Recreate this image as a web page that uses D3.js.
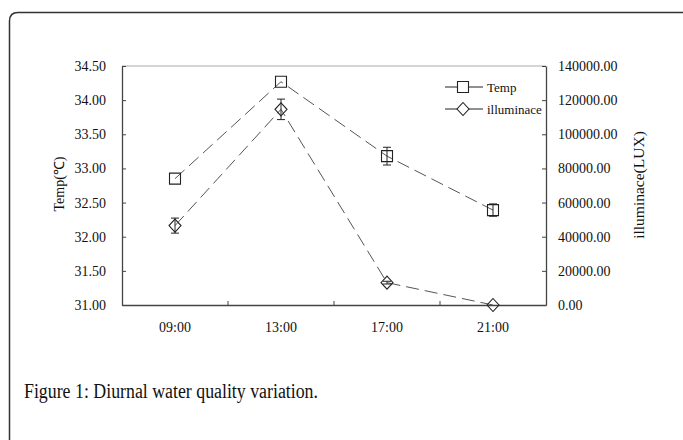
<!DOCTYPE html>
<html>
<head>
<meta charset="utf-8">
<script src="https://cdn.jsdelivr.net/npm/d3@7"></script>
<style>
  body { margin: 0; background: #fff; }
  svg text { font-family: "Liberation Serif", "Times New Roman", serif; fill: #111; }
</style>
</head>
<body>
<svg id="chart" width="683" height="440"></svg>
<script>
// data
const times = ["09:00", "13:00", "17:00", "21:00"];
const temp = [32.85, 34.27, 33.18, 32.39];
const tempErr = [0.01, 0.01, 0.13, 0.09];
const lux = [46500, 114600, 13100, 0];
const luxErr = [4400, 6000, 800, 300];
const tempTicks = [31, 31.5, 32, 32.5, 33, 33.5, 34, 34.5];
const luxTicks = [0, 20000, 40000, 60000, 80000, 100000, 120000, 140000];

const svg = d3.select("#chart");

// outer frame of the figure box (runs off right and bottom)
svg.append("path")
  .attr("d", "M9.5,440 L9.5,21 Q9.5,12.5 18,12.5 L690,12.5")
  .attr("fill", "none").attr("stroke", "#333").attr("stroke-width", 1.5);

const pLeft = 122, pRight = 546, pTop = 66, pBottom = 305;

const x = d3.scaleBand().domain(times).range([pLeft, pRight]);
const yT = d3.scaleLinear().domain([31, 34.5]).range([pBottom, pTop]);
const yL = d3.scaleLinear().domain([0, 140000]).range([pBottom, pTop]);

// plot border
svg.append("line").attr("x1", pLeft).attr("x2", pRight).attr("y1", pTop).attr("y2", pTop)
  .attr("stroke", "#aaa").attr("stroke-width", 1);

// left axis
const ga = svg.append("g").attr("transform", `translate(${pLeft},0)`)
  .call(d3.axisLeft(yT).tickValues(tempTicks).tickFormat(d3.format(".2f")).tickSizeInner(-4).tickSizeOuter(0).tickPadding(16));
// right axis
const gb = svg.append("g").attr("transform", `translate(${pRight},0)`)
  .call(d3.axisRight(yL).tickValues(luxTicks).tickFormat(d3.format(".2f")).tickSizeInner(-4).tickSizeOuter(0).tickPadding(12));
// bottom axis: ticks on band boundaries
const gx = svg.append("g").attr("transform", `translate(0,${pBottom})`)
  .call(d3.axisBottom(x).tickSize(0).tickPadding(17));
gx.selectAll(".tick").append("line")
  .attr("x1", x.bandwidth() / 2).attr("x2", x.bandwidth() / 2)
  .attr("y1", 0).attr("y2", -4)
  .attr("stroke", "#333")
  .filter((d, i) => i === times.length - 1).remove();

[ga, gb, gx].forEach(g => {
  g.select(".domain").attr("stroke", "#444").attr("stroke-width", 1.3);
  g.selectAll(".tick line").attr("stroke", "#444");
  g.selectAll("text").attr("font-size", 14).attr("font-family", "Liberation Serif").attr("fill", "#111");
});

// axis titles
svg.append("text").attr("transform", "translate(64,184) rotate(-90)")
  .attr("text-anchor", "middle").attr("font-size", 14).text("Temp(℃)");
svg.append("text").attr("transform", "translate(644,185) rotate(-90)")
  .attr("text-anchor", "middle").attr("font-size", 15.5).text("illuminace(LUX)");

const cx = d => x(d) + x.bandwidth() / 2;
const dashes = "13,6";

function series(vals, errs, y, shape) {
  const g = svg.append("g");
  g.append("path")
    .datum(vals)
    .attr("d", d3.line().x((d, i) => cx(times[i])).y(d => y(d)))
    .attr("fill", "none").attr("stroke", "#555").attr("stroke-width", 1).attr("stroke-dasharray", dashes);
  vals.forEach((v, i) => {
    const px = cx(times[i]);
    const y1 = y(v + errs[i]), y2 = y(v - errs[i]);
    if (y2 - y1 > 2) {
      g.append("line").attr("x1", px).attr("x2", px).attr("y1", y1).attr("y2", y2).attr("stroke", "#222");
      [y1, y2].forEach(yy => g.append("line").attr("x1", px - 4).attr("x2", px + 4)
        .attr("y1", yy).attr("y2", yy).attr("stroke", "#222"));
    }
  });
  g.selectAll(".m").data(vals).enter().append("path")
    .attr("transform", (d, i) => `translate(${cx(times[i])},${y(d)})`)
    .attr("d", shape)
    .attr("fill", "none").attr("stroke", "#222").attr("stroke-width", 1.1);
}

const squarePath = "M-5.5,-5.5 H5.5 V5.5 H-5.5 Z";
const diamondPath = "M0,-6.5 L6,0 L0,6.5 L-6,0 Z";

series(temp, tempErr, yT, squarePath);
series(lux, luxErr, yL, diamondPath);

// legend
const legend = [["Temp", squarePath], ["illuminace", diamondPath]];
legend.forEach((l, i) => {
  const ly = 87 + i * 22;
  svg.append("line").attr("x1", 445).attr("x2", 483).attr("y1", ly).attr("y2", ly)
    .attr("stroke", "#222").attr("stroke-width", 1);
  svg.append("path").attr("transform", `translate(463,${ly})`).attr("d", l[1])
    .attr("fill", "#fff").attr("stroke", "#222").attr("stroke-width", 1.1);
  svg.append("text").attr("x", 487).attr("y", ly + 5).attr("font-size", 13).text(l[0]);
});

// caption
svg.append("text").attr("x", 24).attr("y", 398).attr("font-size", 20)
  .attr("textLength", 294).attr("lengthAdjust", "spacingAndGlyphs")
  .attr("font-family", "Liberation Serif").text("Figure 1: Diurnal water quality variation.");
</script>
</body>
</html>
